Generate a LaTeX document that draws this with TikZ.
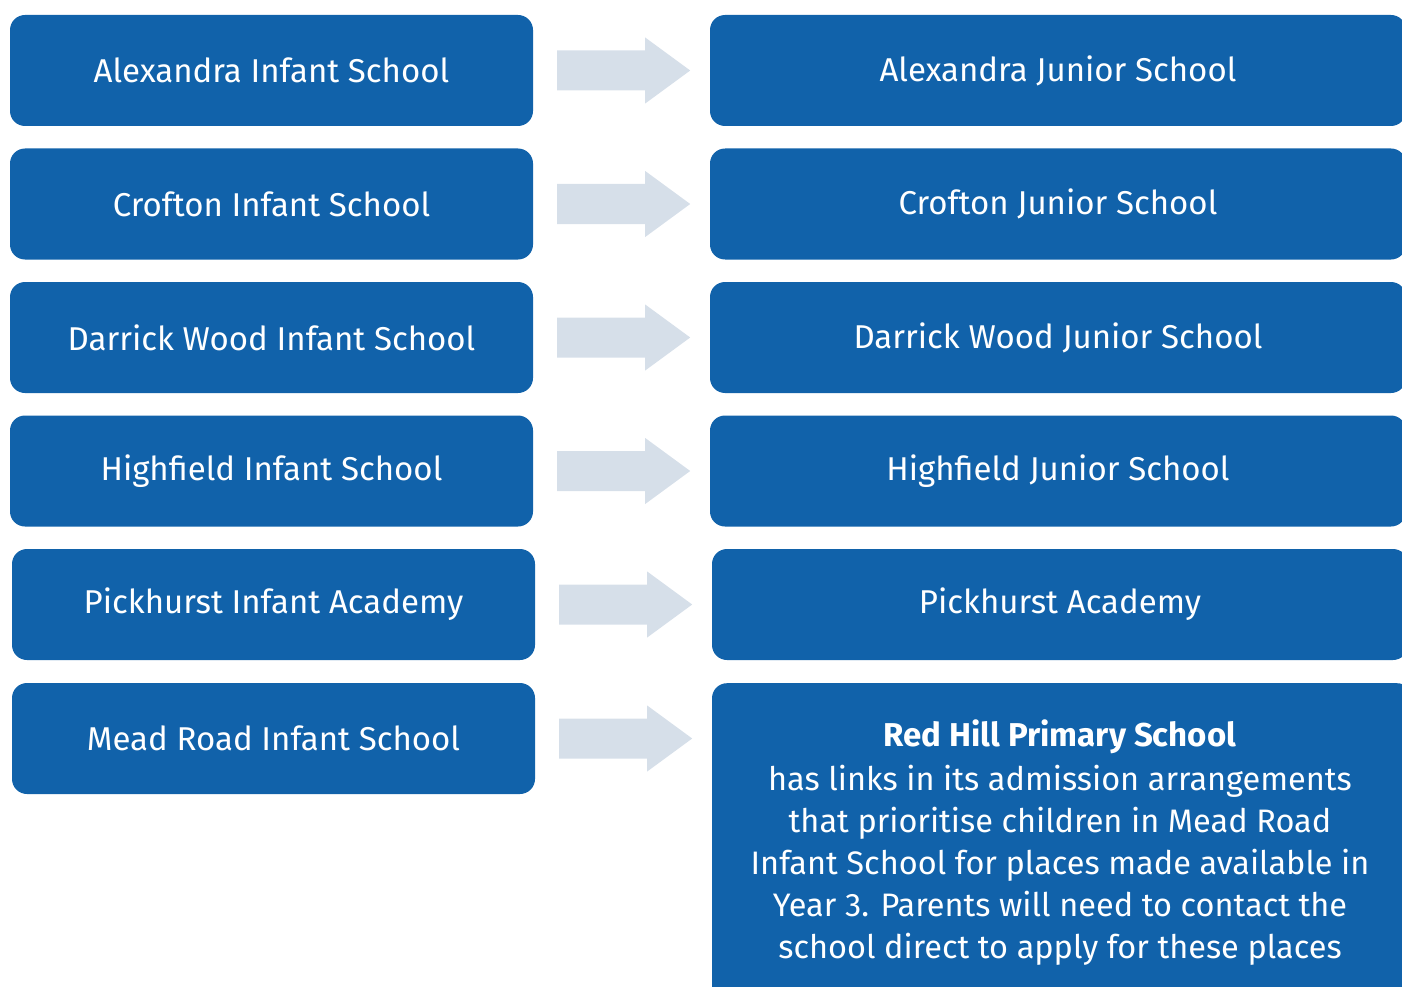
\documentclass[tikz,border=0pt]{standalone}
\usepackage{fontspec}
\setmainfont{Fira Sans}
\usetikzlibrary{calc}
\definecolor{boxblue}{HTML}{1162AA}
\definecolor{arrowgrey}{HTML}{D6DFE9}
\tikzset{
  schoolbox/.style={fill=boxblue, draw=none, rounded corners=15pt, text=white,
    minimum height=111pt, inner sep=0pt, font=\fontsize{33}{42}\selectfont},
  leftbox/.style={schoolbox, minimum width=523pt},
  rightbox/.style={schoolbox, minimum width=696pt},
  linkarrow/.style={fill=arrowgrey, draw=none}
}
\begin{document}
\begin{tikzpicture}[x=1pt,y=-1pt]
\useasboundingbox (0,0) rectangle (1402,987);
\clip (0,0) rectangle (1402,987);
% left column
\node[leftbox] (i1) at (271.5,70.5) {Alexandra Infant School};
\node[leftbox] (i2) at (271.5,204) {Crofton Infant School};
\node[leftbox] (i3) at (271.5,337.5) {Darrick Wood Infant School};
\node[leftbox] (i4) at (271.5,471) {Highfield Infant School};
\node[leftbox] (i5) at (273.5,604.5) {Pickhurst Infant Academy};
\node[leftbox] (i6) at (273.5,738.5) {Mead Road Infant School};
% right column
\node[rightbox] (j1) at (1058,70.5) {Alexandra Junior School};
\node[rightbox] (j2) at (1058,204) {Crofton Junior School};
\node[rightbox] (j3) at (1058,337.5) {Darrick Wood Junior School};
\node[rightbox] (j4) at (1058,471) {Highfield Junior School};
\node[rightbox] (j5) at (1060,604.5) {Pickhurst Academy};
\node[schoolbox, minimum width=700pt, minimum height=330pt, anchor=north] (j6) at (1062,683) {};
\node[text=white, align=center, font=\fontsize{32.5}{42}\selectfont, anchor=north, inner sep=0pt]
  (t6) at (1060,720) {{\fontsize{33}{42}\selectfont\bfseries Red Hill Primary School}\\[2pt]
  has links in its admission arrangements\\
  that prioritise children in Mead Road\\
  Infant School for places made available in\\
  Year 3. Parents will need to contact the\\
  school direct to apply for these places};
% arrows
\foreach \n in {1,...,6}{
  \fill[linkarrow] ($(i\n.east)+(24,-20)$) -- ++(88,0) -- ++(0,-13) -- ++(45,33)
    -- ++(-45,33) -- ++(0,-13) -- ++(-88,0) -- cycle;
}
\end{tikzpicture}
\end{document}
